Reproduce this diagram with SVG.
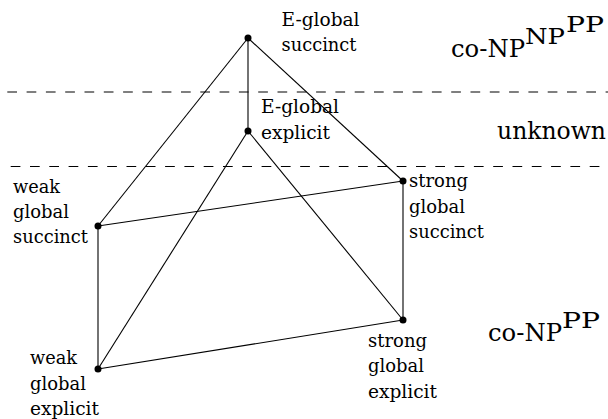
<svg xmlns="http://www.w3.org/2000/svg" width="608" height="419" viewBox="0 0 608 419">
<style>
text{font-family:"DejaVu Serif",serif;fill:#000}
.lbl{font-size:18px}
.edge{stroke:#000;stroke-width:1.1;fill:none}
.dash{stroke:#000;stroke-width:1.1;stroke-dasharray:9.7 9.6;fill:none}
.dot{fill:#000}
</style>
<rect width="608" height="419" fill="#fff"/>
<g id="levels">
<line class="dash" x1="7.3" y1="92" x2="608" y2="92"/>
<line class="dash" x1="10.7" y1="166.5" x2="608" y2="166.5"/>
<text font-size="24" x="451" y="57" textLength="74" lengthAdjust="spacingAndGlyphs">co-NP</text>
<text font-size="23" x="525" y="44" textLength="40" lengthAdjust="spacingAndGlyphs">NP</text>
<text font-size="22" x="566" y="32" textLength="38" lengthAdjust="spacingAndGlyphs">PP</text>
<text font-size="24" x="497" y="139" textLength="109" lengthAdjust="spacingAndGlyphs">unknown</text>
<text font-size="24" x="488" y="341" textLength="74" lengthAdjust="spacingAndGlyphs">co-NP</text>
<text font-size="22" x="562" y="328" textLength="38" lengthAdjust="spacingAndGlyphs">PP</text>
</g>
<g id="connectors">
<line class="edge" x1="248" y1="38" x2="98" y2="226"/>
<line class="edge" x1="248" y1="38" x2="248" y2="131"/>
<line class="edge" x1="248" y1="38" x2="403" y2="181"/>
<line class="edge" x1="248" y1="131" x2="98" y2="369"/>
<line class="edge" x1="248" y1="131" x2="403" y2="320"/>
<line class="edge" x1="98" y1="226" x2="403" y2="181"/>
<line class="edge" x1="98" y1="226" x2="98" y2="369"/>
<line class="edge" x1="403" y1="181" x2="403" y2="320"/>
<line class="edge" x1="98" y1="369" x2="403" y2="320"/>
</g>
<g id="e-global-succinct">
<circle class="dot" cx="248" cy="38" r="3.5"/>
<text class="lbl" x="281.5" y="26" textLength="78" lengthAdjust="spacingAndGlyphs">E-global</text>
<text class="lbl" x="281.5" y="51" textLength="75" lengthAdjust="spacingAndGlyphs">succinct</text>
</g>
<g id="e-global-explicit">
<circle class="dot" cx="248" cy="131" r="3.5"/>
<text class="lbl" x="261" y="113" textLength="78" lengthAdjust="spacingAndGlyphs">E-global</text>
<text class="lbl" x="261" y="139" textLength="69" lengthAdjust="spacingAndGlyphs">explicit</text>
</g>
<g id="weak-global-succinct">
<circle class="dot" cx="98" cy="226" r="3.5"/>
<text class="lbl" x="13" y="192.5" textLength="47" lengthAdjust="spacingAndGlyphs">weak</text>
<text class="lbl" x="13" y="217.5" textLength="56" lengthAdjust="spacingAndGlyphs">global</text>
<text class="lbl" x="13" y="243" textLength="75" lengthAdjust="spacingAndGlyphs">succinct</text>
</g>
<g id="strong-global-succinct">
<circle class="dot" cx="403" cy="181" r="3.5"/>
<text class="lbl" x="409" y="187" textLength="59" lengthAdjust="spacingAndGlyphs">strong</text>
<text class="lbl" x="409" y="212.5" textLength="56" lengthAdjust="spacingAndGlyphs">global</text>
<text class="lbl" x="409" y="238" textLength="75" lengthAdjust="spacingAndGlyphs">succinct</text>
</g>
<g id="weak-global-explicit">
<circle class="dot" cx="98" cy="369" r="3.5"/>
<text class="lbl" x="30" y="364" textLength="47" lengthAdjust="spacingAndGlyphs">weak</text>
<text class="lbl" x="30" y="390" textLength="56" lengthAdjust="spacingAndGlyphs">global</text>
<text class="lbl" x="30" y="414.5" textLength="69" lengthAdjust="spacingAndGlyphs">explicit</text>
</g>
<g id="strong-global-explicit">
<circle class="dot" cx="403" cy="320" r="3.5"/>
<text class="lbl" x="368" y="347" textLength="59" lengthAdjust="spacingAndGlyphs">strong</text>
<text class="lbl" x="368" y="372" textLength="56" lengthAdjust="spacingAndGlyphs">global</text>
<text class="lbl" x="368" y="398" textLength="69" lengthAdjust="spacingAndGlyphs">explicit</text>
</g>
</svg>
